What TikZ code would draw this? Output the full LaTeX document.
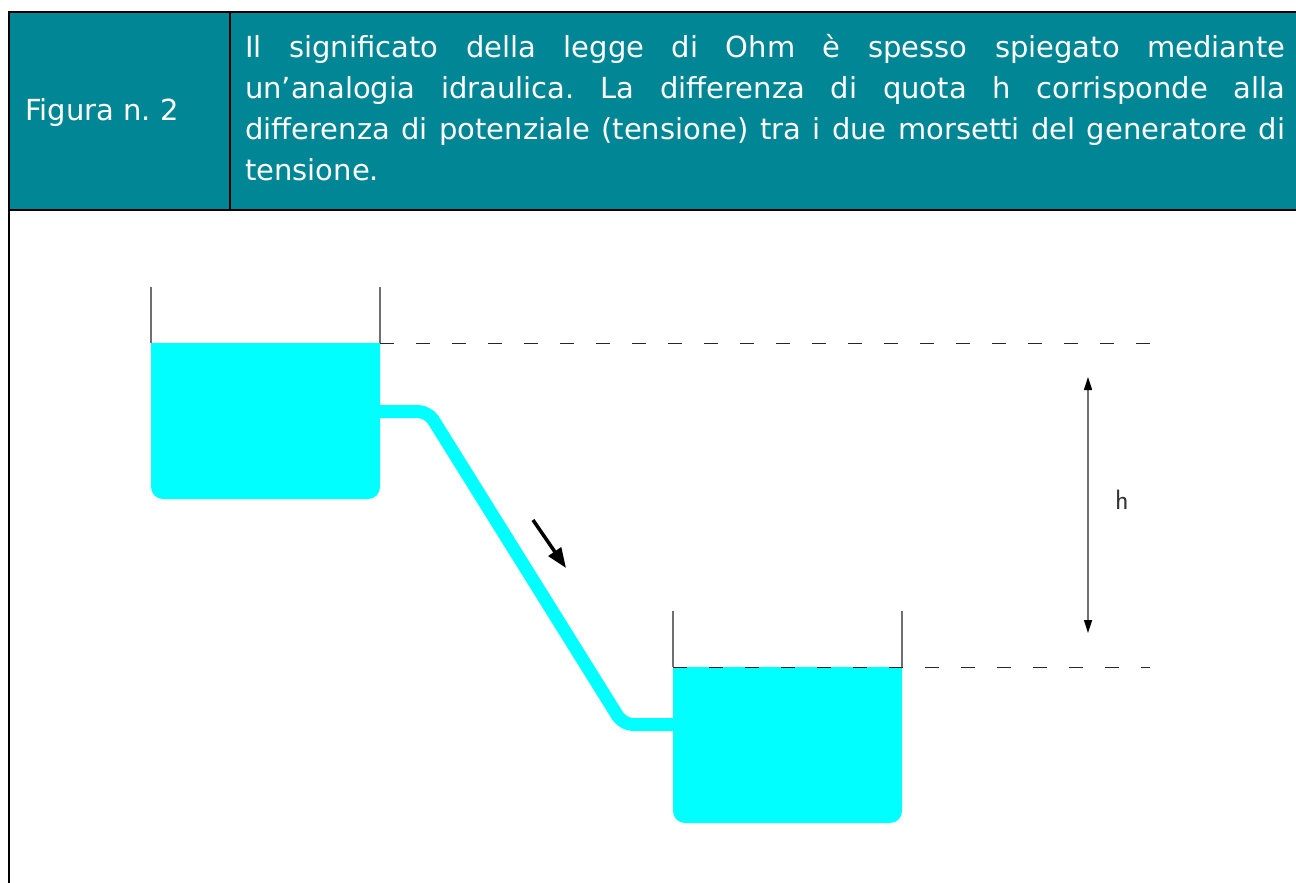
\documentclass[tikz,border=0pt]{standalone}
\usepackage{fontspec}
\setmainfont{DejaVu Sans}
\usetikzlibrary{arrows.meta,positioning}
\definecolor{cellteal}{RGB}{0,134,149}
\definecolor{acqua}{RGB}{0,255,255}
\definecolor{muro}{RGB}{112,112,112}
\newcommand{\cellfont}{\fontsize{29}{40.7}\selectfont\frenchspacing\tolerance=10000\relax\hyphenpenalty=10000\relax}
\tikzset{cell style/.style={text=white,inner sep=0pt,font=\cellfont},
	wall/.style={muro,line width=1.5pt},
	livello/.style={black!85,line width=1pt,dash pattern=on 13.5pt off 22.5pt}}
\newcommand{\vasca}[3]{% left x, level y, name
	\fill[acqua] (#1,#2) [rounded corners=12pt] -- (#1,#2+156) -- (#1+229,#2+156) [sharp corners] -- (#1+229,#2) -- cycle;
	\draw[wall] (#1,#2-56) -- (#1,#2) (#1+229,#2-56) -- (#1+229,#2);
	\coordinate (#3) at (#1+229,#2);}

\begin{document}
\begin{tikzpicture}[x=1pt,y=-1pt,>={Triangle[length=13pt,width=8pt,color=black]}]
	\tikzstyle{tubo}=[acqua,line width=13pt,rounded corners=10pt]
	\tikzstyle{flusso}=[line width=3.5pt,-{Triangle[length=20pt,width=15pt]}]
	\useasboundingbox (0,0) rectangle (1296,883);

	% header of the table
	\fill[cellteal] (9,12) rectangle (1296,210);
	\draw[line width=2.5pt] (1296,12) -- (9,12) -- (9,883) (9,210) -- (1296,210) (230,12) -- (230,210);
	\node[cell style,anchor=base west] (fig) at (25,120) {Figura n. 2};
	\node[cell style,anchor=base west,text width=1040pt,align=justify] (didas) at (245,58)
	{Il significato della legge di Ohm è spesso spiegato mediante\linebreak
		un’analogia idraulica. La differenza di quota h corrisponde alla\linebreak
		differenza di potenziale (tensione) tra i due morsetti del generatore di\linebreak
		tensione.};

	% the two tanks and the pipe
	\vasca{151}{343}{sup}
	\vasca{673}{667}{inf}
	\draw[tubo] (375,411.5) -- (428,411.5) -- (623,724.5) -- (678,724.5);

	\draw[livello] (sup) -- (1150,343);
	\draw[livello] (673,667) -- (1150,667);

	% difference of level
	\coordinate (htop) at (1088,377);
	\coordinate (hbot) at (1088,633);
	\draw[muro,line width=1.6pt,<->] (htop) -- (hbot);
	\node[font=\sffamily\fontsize{28}{28}\selectfont,text=black!80] (h) at (1122,500) {h};

	\coordinate (fs) at (533,520);
	\coordinate (fe) at (566,568);
	\draw[flusso] (fs) -- (fe);
\end{tikzpicture}
\end{document}
